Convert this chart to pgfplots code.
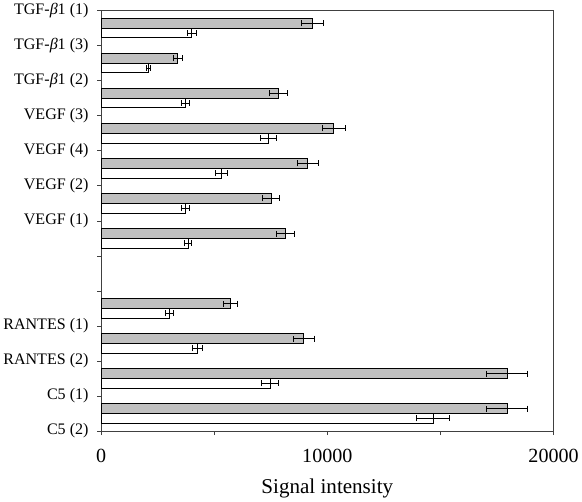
\documentclass[border=0pt]{standalone}
\usepackage{pgfplots}
\pgfplotsset{compat=1.18}
\usepackage{fontspec}
\setmainfont{Liberation Serif}
\definecolor{bargray}{RGB}{192,192,192}
\begin{document}
\begin{tikzpicture}
\begin{axis}[
    scale only axis,
    width=451pt, height=419pt,
    xbar, bar width=0.27,
    xmin=0, xmax=20000,
    ymin=0.5, ymax=12.5, y dir=reverse,
    xtick={0,5000,10000,15000,20000},
    xticklabels={0,,10000,,20000},
    scaled x ticks=false,
    ytick={0.5,1.5,...,12.5},
    yticklabels={TGF-\textit{β}1 (1),TGF-\textit{β}1 (3),TGF-\textit{β}1 (2),VEGF (3),VEGF (4),VEGF (2),VEGF (1),,,RANTES (1),RANTES (2),C5 (1),C5 (2)},
    tick align=outside, tick pos=left,
    major tick length=4pt,
    axis line style={black!75, line width=0.8pt},
    tick style={black!75, line width=0.8pt},
    x tick label style={font=\fontsize{20pt}{24pt}\selectfont, yshift=-10pt},
    y tick label style={font=\fontsize{16pt}{19pt}\selectfont, xshift=-5pt},
    xlabel={Signal intensity},
    xlabel style={font=\fontsize{21pt}{25pt}\selectfont, yshift=-10pt},
    error bars/error bar style={black, line width=0.9pt},
    error bars/error mark options={black, line width=0.9pt, mark size=3pt, rotate=90},
]
% gray series
\addplot[fill=bargray, draw=black, line width=1pt, bar shift=-0.14,
    error bars/.cd, x dir=both, x explicit]
coordinates {
    (9350,1)  +- (500,0)
    (3390,2)  +- (185,0)
    (7830,3)  +- (400,0)
    (10280,4) +- (510,0)
    (9140,5)  +- (460,0)
    (7520,6)  +- (385,0)
    (8140,7)  +- (385,0)
    (5730,9)  +- (305,0)
    (8950,10) +- (460,0)
    (17950,11) +- (900,0)
    (17950,12) +- (900,0)
};
% white series
\addplot[fill=white, draw=black, line width=0.9pt, bar shift=0.14,
    error bars/.cd, x dir=both, x explicit]
coordinates {
    (4010,1)  +- (190,0)
    (2090,2)  +- (80,0)
    (3730,3)  +- (180,0)
    (7400,4)  +- (355,0)
    (5330,5)  +- (260,0)
    (3730,6)  +- (180,0)
    (3840,7)  +- (165,0)
    (3020,9)  +- (165,0)
    (4250,10) +- (220,0)
    (7470,11) +- (370,0)
    (14670,12) +- (740,0)
};
% keep a little room right of the last tick label
\path (rel axis cs:1,0) ++(28pt,0) coordinate (pad);
\end{axis}
\end{tikzpicture}
\end{document}
